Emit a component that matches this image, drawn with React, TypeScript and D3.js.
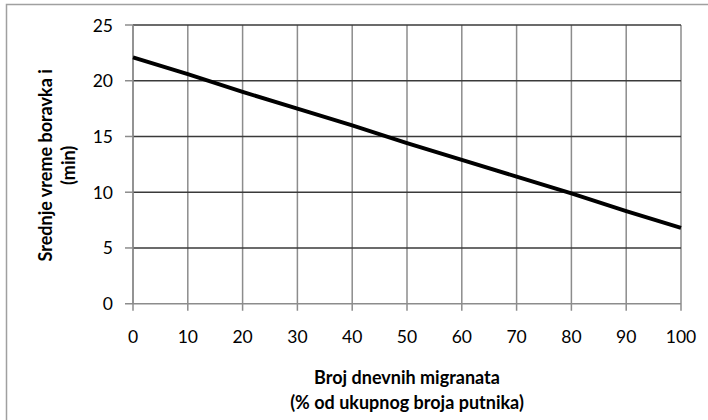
import React from "react";
import * as d3 from "d3";

const xValues = [0, 10, 20, 30, 40, 50, 60, 70, 80, 90, 100];
const yValues = [22.1, 20.6, 19.0, 17.5, 16.0, 14.4, 12.9, 11.4, 9.9, 8.3, 6.8];
const xTicks = [0, 10, 20, 30, 40, 50, 60, 70, 80, 90, 100];
const yTicks = [0, 5, 10, 15, 20, 25];
const xTitle = ["Broj dnevnih migranata", "(% od ukupnog broja putnika)"];
const yTitle = ["Srednje vreme boravka i", "(min)"];

const W = 708;
const H = 420;
const left = 133;
const right = 681;
const top = 25;
const bottom = 303.7;
const FONT = "Lato, 'Open Sans', sans-serif";

export default function App() {
  const x = d3.scaleLinear().domain([0, 100]).range([left, right]);
  const y = d3.scaleLinear().domain([0, 25]).range([bottom, top]);
  const pts = xValues.map((v, i) => [v, yValues[i]] as [number, number]);
  const line = d3
    .line<[number, number]>()
    .x((d) => x(d[0]))
    .y((d) => y(d[1]));
  const cy = (top + bottom) / 2;
  const cx = (left + right) / 2;
  return (
    <svg
      width={W}
      height={H}
      style={{ position: "absolute", left: 0, top: 0, background: "#fff" }}
      fontFamily={FONT}
    >
      <rect x={6.5} y={4.5} width={W + 10} height={H + 10} fill="#fff" stroke="#a0a0a0" strokeWidth={1.5} />
      {xTicks.map((t) => (
        <line key={"vx" + t} x1={x(t)} x2={x(t)} y1={top} y2={bottom + 7} stroke="#8c8c8c" strokeWidth={1.5} />
      ))}
      {yTicks.map((t) =>
        t === 0 ? (
          <line key={"hy" + t} x1={left - 8} x2={right} y1={y(t)} y2={y(t)} stroke="#8c8c8c" strokeWidth={1.5} />
        ) : (
          <g key={"hy" + t}>
            <line x1={left - 8} x2={left} y1={y(t)} y2={y(t)} stroke="#8c8c8c" strokeWidth={1.5} />
            <line x1={left} x2={right} y1={y(t)} y2={y(t)} stroke="#3a3a3a" strokeWidth={1.5} />
          </g>
        )
      )}
      <line x1={left} x2={left} y1={top} y2={bottom} stroke="#8c8c8c" strokeWidth={1.5} />
      <path d={line(pts) || ""} fill="none" stroke="#000" strokeWidth={4} />
      {xTicks.map((t) => (
        <text key={"xl" + t} x={x(t)} y={343} textAnchor="middle" fontSize={17.5} fill="#000">
          {t}
        </text>
      ))}
      {yTicks.map((t) => (
        <text key={"yl" + t} x={113} y={y(t) + 6.5} textAnchor="end" fontSize={17.5} fill="#000">
          {t}
        </text>
      ))}
      <text x={cx} y={384} textAnchor="middle" fontSize={18} fontWeight="bold" fill="#000">
        {xTitle[0]}
      </text>
      <text x={cx} y={409} textAnchor="middle" fontSize={18} fontWeight="bold" fill="#000">
        {xTitle[1]}
      </text>
      <text transform={`translate(52,${cy + 1}) rotate(-90)`} textAnchor="middle" fontSize={18} fontWeight="bold" fill="#000">
        {yTitle[0]}
      </text>
      <text transform={`translate(75,${cy + 1}) rotate(-90)`} textAnchor="middle" fontSize={18} fontWeight="bold" fill="#000">
        {yTitle[1]}
      </text>
    </svg>
  );
}
